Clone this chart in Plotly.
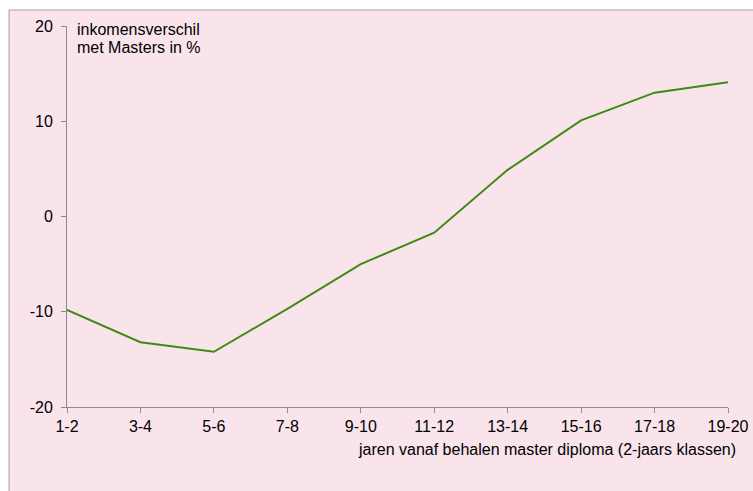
import plotly.graph_objects as go

klassen = ["1-2", "3-4", "5-6", "7-8", "9-10", "11-12", "13-14", "15-16", "17-18", "19-20"]
verschil = [-9.8, -13.2, -14.2, -9.7, -5.0, -1.7, 4.9, 10.1, 13.0, 14.1]
y_ticks = [-20, -10, 0, 10, 20]
y_labels = ["-20", "-10", "0", "10", "20"]

pink = "#F9E4EC"
axis_col = "#8C8C8C"
font = dict(family="Liberation Sans, Arial, sans-serif", size=16, color="#000000")

fig = go.Figure()
fig.add_trace(go.Scatter(x=klassen, y=verschil, mode="lines",
                         line=dict(color="#3F8A12", width=2), showlegend=False))

fig.update_layout(
    width=753, height=491,
    margin=dict(l=67, r=25, t=26, b=84),
    paper_bgcolor="white",
    plot_bgcolor=pink,
    font=font,
    xaxis=dict(type="category", range=[0, 9], showgrid=False, zeroline=False,
               showline=True, linecolor=axis_col, linewidth=1, automargin=False,
               ticks="outside", ticklen=5, tickcolor=axis_col, tickfont=font),
    yaxis=dict(range=[-20, 20], tickvals=y_ticks, ticktext=y_labels,
               showgrid=False, zeroline=False,
               showline=True, linecolor=axis_col, linewidth=1, automargin=False,
               ticks="outside", ticklen=5, tickcolor=axis_col, tickfont=font,
               ticklabelstandoff=5),
    shapes=[dict(type="rect", xref="paper", yref="paper", layer="below",
                 x0=-0.0877, x1=1.06, y0=-0.26, y1=1.042,
                 fillcolor=pink, line=dict(color="#A0A0A0", width=1))],
    annotations=[
        dict(text="inkomensverschil", xref="paper", yref="paper",
             x=0.012, y=0.991, xanchor="left", yanchor="middle",
             showarrow=False, font=font),
        dict(text="met Masters in %", xref="paper", yref="paper",
             x=0.012, y=0.943, xanchor="left", yanchor="middle",
             showarrow=False, font=font),
        dict(text="jaren vanaf behalen master diploma (2-jaars klassen)",
             xref="paper", yref="paper", x=1.015, y=-0.111,
             xanchor="right", yanchor="middle", showarrow=False, font=font),
    ],
)

# drop the default page margin so the figure fills the window exactly
fig.write_html("out.html", config={"displayModeBar": False},
               post_script="document.body.style.margin='0';document.body.style.overflow='hidden';")
